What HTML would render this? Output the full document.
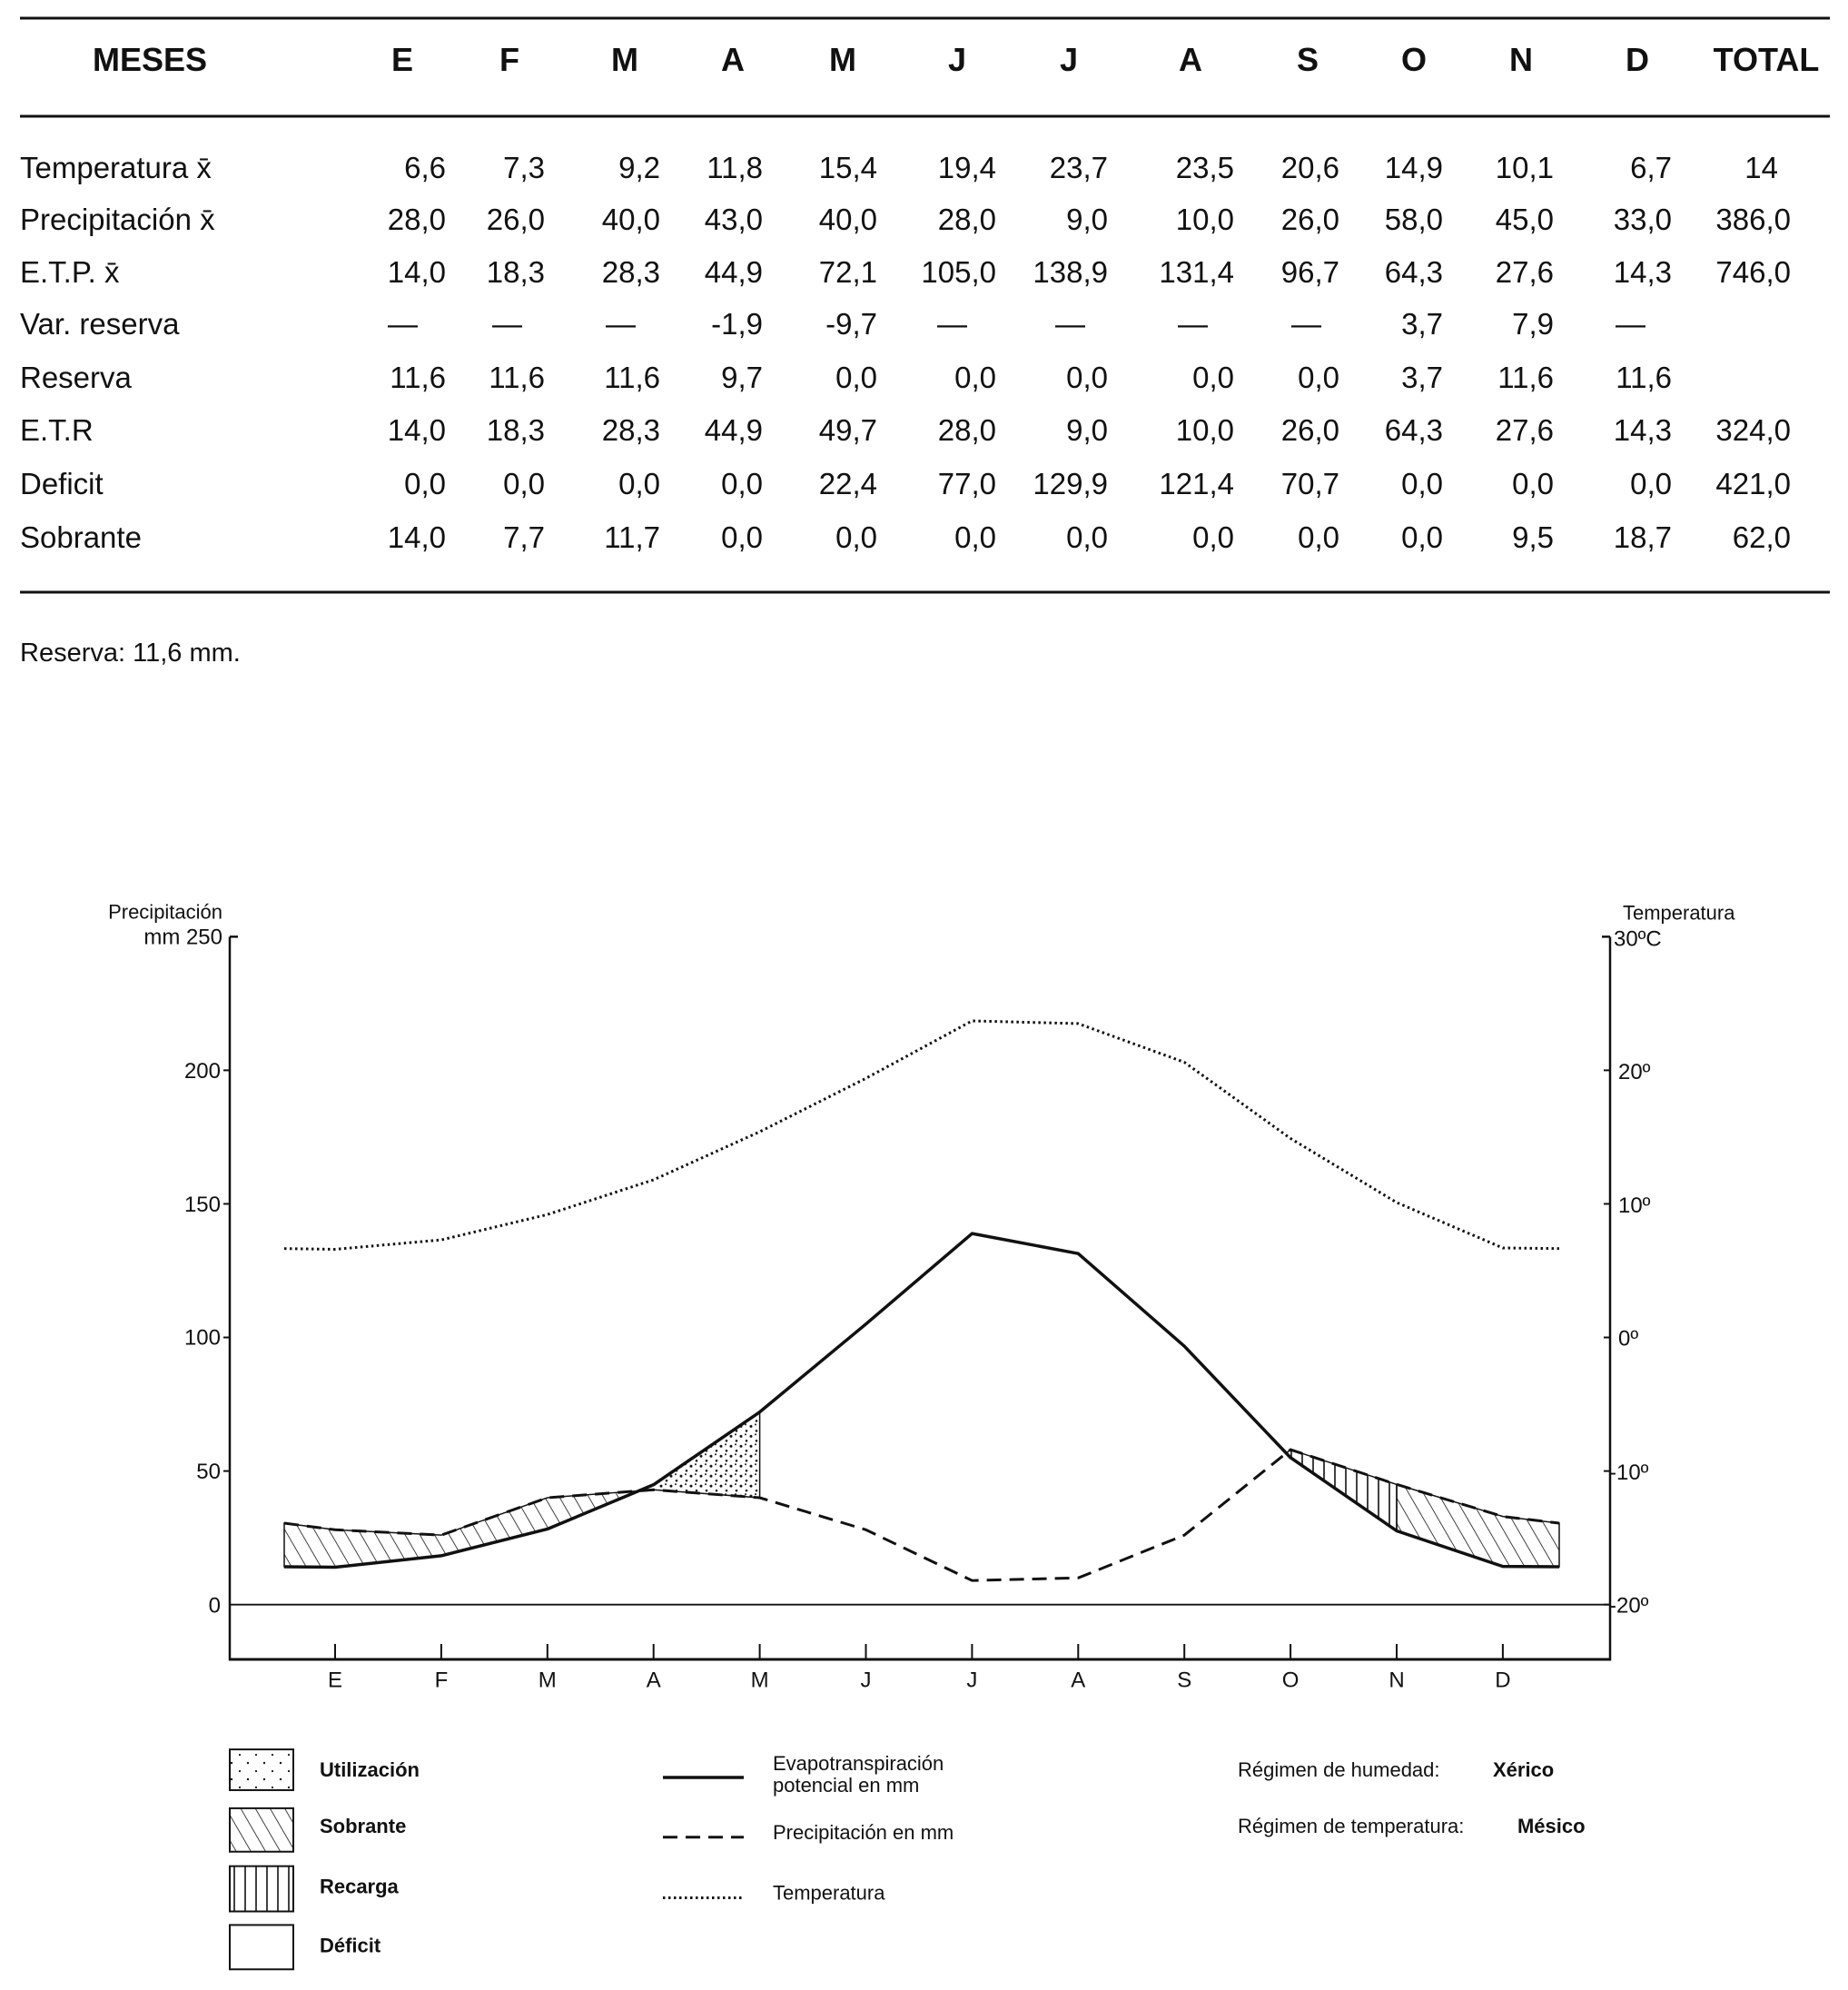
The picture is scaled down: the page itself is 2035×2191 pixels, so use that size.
<!DOCTYPE html>
<html><head><meta charset="utf-8"><style>
html,body{margin:0;padding:0;background:#fff;}
svg{display:block;}
text{font-family:"Liberation Sans",sans-serif;fill:#111;}
.t{font-size:33px;}
.h{font-size:36px;font-weight:bold;}
.s{font-size:22px;}
.sb{font-size:22px;font-weight:bold;}
.ax{font-size:24px;}
</style></head><body>
<svg width="2035" height="2191" viewBox="0 0 2035 2191" xmlns="http://www.w3.org/2000/svg">
<defs>
<pattern id="bs" patternUnits="userSpaceOnUse" width="14" height="14" patternTransform="rotate(-30)">
<line x1="0" y1="0" x2="0" y2="14" stroke="#111" stroke-width="1.6"/></pattern>
<pattern id="vl" patternUnits="userSpaceOnUse" width="12" height="12">
<line x1="6" y1="0" x2="6" y2="12" stroke="#111" stroke-width="1.6"/></pattern>
<pattern id="dt" patternUnits="userSpaceOnUse" width="11" height="11">
<circle cx="2" cy="3" r="1.5" fill="#111"/><circle cx="8" cy="8" r="1.3" fill="#111"/><circle cx="7" cy="1" r="1" fill="#111"/></pattern>
<pattern id="dtl" patternUnits="userSpaceOnUse" width="18" height="18">
<circle cx="3" cy="4" r="1.2" fill="#111"/><circle cx="12" cy="13" r="1.1" fill="#111"/></pattern>
</defs>
<rect width="2035" height="2191" fill="#fff"/>
<!-- table -->
<line x1="22" y1="20" x2="2015" y2="20" stroke="#111" stroke-width="3"/>
<line x1="22" y1="128" x2="2015" y2="128" stroke="#111" stroke-width="3"/>
<line x1="22" y1="652" x2="2015" y2="652" stroke="#111" stroke-width="3"/>
<g class="h" text-anchor="middle">
<text x="165" y="78">MESES</text>
<text x="443" y="78">E</text><text x="561" y="78">F</text><text x="688" y="78">M</text><text x="807" y="78">A</text><text x="928" y="78">M</text><text x="1054" y="78">J</text><text x="1177" y="78">J</text><text x="1311" y="78">A</text><text x="1440" y="78">S</text><text x="1557" y="78">O</text><text x="1675" y="78">N</text><text x="1803" y="78">D</text><text x="1945" y="78">TOTAL</text>
</g>
<g class="t">
<text x="22" y="196">Temperatura x̄</text>
<text x="22" y="253">Precipitación x̄</text>
<text x="22" y="311">E.T.P. x̄</text>
<text x="22" y="368">Var. reserva</text>
<text x="22" y="427">Reserva</text>
<text x="22" y="485">E.T.R</text>
<text x="22" y="544">Deficit</text>
<text x="22" y="603">Sobrante</text>
</g>
<g class="t" text-anchor="end">
<g transform="translate(0,196)"><text x="491">6,6</text><text x="600">7,3</text><text x="727">9,2</text><text x="840">11,8</text><text x="966">15,4</text><text x="1097">19,4</text><text x="1220">23,7</text><text x="1359">23,5</text><text x="1475">20,6</text><text x="1589">14,9</text><text x="1711">10,1</text><text x="1841">6,7</text><text x="1958">14</text></g>
<g transform="translate(0,253)"><text x="491">28,0</text><text x="600">26,0</text><text x="727">40,0</text><text x="840">43,0</text><text x="966">40,0</text><text x="1097">28,0</text><text x="1220">9,0</text><text x="1359">10,0</text><text x="1475">26,0</text><text x="1589">58,0</text><text x="1711">45,0</text><text x="1841">33,0</text><text x="1972">386,0</text></g>
<g transform="translate(0,311)"><text x="491">14,0</text><text x="600">18,3</text><text x="727">28,3</text><text x="840">44,9</text><text x="966">72,1</text><text x="1097">105,0</text><text x="1220">138,9</text><text x="1359">131,4</text><text x="1475">96,7</text><text x="1589">64,3</text><text x="1711">27,6</text><text x="1841">14,3</text><text x="1972">746,0</text></g>
<g transform="translate(0,368)"><text x="460">—</text><text x="575">—</text><text x="700">—</text><text x="840">-1,9</text><text x="966">-9,7</text><text x="1065">—</text><text x="1195">—</text><text x="1330">—</text><text x="1455">—</text><text x="1589">3,7</text><text x="1711">7,9</text><text x="1812">—</text></g>
<g transform="translate(0,427)"><text x="491">11,6</text><text x="600">11,6</text><text x="727">11,6</text><text x="840">9,7</text><text x="966">0,0</text><text x="1097">0,0</text><text x="1220">0,0</text><text x="1359">0,0</text><text x="1475">0,0</text><text x="1589">3,7</text><text x="1711">11,6</text><text x="1841">11,6</text></g>
<g transform="translate(0,485)"><text x="491">14,0</text><text x="600">18,3</text><text x="727">28,3</text><text x="840">44,9</text><text x="966">49,7</text><text x="1097">28,0</text><text x="1220">9,0</text><text x="1359">10,0</text><text x="1475">26,0</text><text x="1589">64,3</text><text x="1711">27,6</text><text x="1841">14,3</text><text x="1972">324,0</text></g>
<g transform="translate(0,544)"><text x="491">0,0</text><text x="600">0,0</text><text x="727">0,0</text><text x="840">0,0</text><text x="966">22,4</text><text x="1097">77,0</text><text x="1220">129,9</text><text x="1359">121,4</text><text x="1475">70,7</text><text x="1589">0,0</text><text x="1711">0,0</text><text x="1841">0,0</text><text x="1972">421,0</text></g>
<g transform="translate(0,603)"><text x="491">14,0</text><text x="600">7,7</text><text x="727">11,7</text><text x="840">0,0</text><text x="966">0,0</text><text x="1097">0,0</text><text x="1220">0,0</text><text x="1359">0,0</text><text x="1475">0,0</text><text x="1589">0,0</text><text x="1711">9,5</text><text x="1841">18,7</text><text x="1972">62,0</text></g>
</g>
<text class="t" x="22" y="728" style="font-size:29px">Reserva: 11,6 mm.</text>

<g transform="matrix(1 0 0 0.99644 0 0)">
<!-- chart fills -->
<polygon fill="url(#bs)" stroke="#111" stroke-width="1.5" points="313,1683 369,1690.3 485.9,1696.2 602.8,1654.9 703.4,1647.3 602.8,1689.5 485.9,1719 369,1731.7 313,1731.2"/>
<polygon fill="url(#dt)" stroke="#111" stroke-width="1.5" points="703.4,1647.3 719.7,1646.1 836.6,1654.9 836.6,1560.2 719.7,1640.5"/>
<polygon fill="url(#vl)" stroke="#111" stroke-width="1.5" points="1416.4,1605.6 1421.1,1601.8 1538,1640.2 1538,1691.5 1421.1,1610.6"/>
<polygon fill="url(#bs)" stroke="#111" stroke-width="1.5" points="1538,1640.2 1654.9,1675.6 1717,1683 1717,1731.2 1654.9,1730.8 1538,1691.5"/>
<!-- axes -->
<g stroke="#111" fill="none">
<line x1="253" y1="1035" x2="253" y2="1834.5" stroke-width="2.5"/>
<line x1="253" y1="1035" x2="262" y2="1035" stroke-width="2.5"/>
<line x1="1773" y1="1035" x2="1773" y2="1834.5" stroke-width="2.5"/>
<line x1="1764" y1="1035" x2="1773" y2="1035" stroke-width="2.5"/>
<line x1="252" y1="1833.5" x2="1774" y2="1833.5" stroke-width="3"/>
<line x1="253" y1="1773" x2="1773" y2="1773" stroke-width="2"/>
<g stroke-width="2">
<line x1="246" y1="1182.6" x2="253" y2="1182.6"/><line x1="246" y1="1330.2" x2="253" y2="1330.2"/><line x1="246" y1="1477.8" x2="253" y2="1477.8"/><line x1="246" y1="1625.4" x2="253" y2="1625.4"/>
<line x1="1766" y1="1182.6" x2="1773" y2="1182.6"/><line x1="1766" y1="1330.2" x2="1773" y2="1330.2"/><line x1="1766" y1="1477.8" x2="1773" y2="1477.8"/><line x1="1766" y1="1625.4" x2="1773" y2="1625.4"/><line x1="1766" y1="1773" x2="1773" y2="1773"/>
<path d="M369 1833.5v-17M485.9 1833.5v-17M602.8 1833.5v-17M719.7 1833.5v-17M836.6 1833.5v-17M953.5 1833.5v-17M1070.4 1833.5v-17M1187.3 1833.5v-17M1304.2 1833.5v-17M1421.1 1833.5v-17M1538 1833.5v-17M1654.9 1833.5v-17"/>
</g>
<!-- series -->
<polyline stroke-width="3.5" stroke-linejoin="round" points="313,1731.2 369,1731.7 485.9,1719 602.8,1689.5 719.7,1640.5 836.6,1560.2 953.5,1463 1070.4,1363 1187.3,1385.1 1304.2,1487.5 1421.1,1610.6 1538,1691.5 1654.9,1730.8 1717,1731.2"/>
<polyline stroke-width="3" stroke-dasharray="16 9" points="313,1683 369,1690.3 485.9,1696.2 602.8,1654.9 719.7,1646.1 836.6,1654.9 953.5,1690.3 1070.4,1746.4 1187.3,1743.5 1304.2,1696.2 1421.1,1601.8 1538,1640.2 1654.9,1675.6 1717,1683"/>
<polyline stroke-width="3" stroke-dasharray="2.5 3.5" points="313,1379.6 369,1380.4 485.9,1370 602.8,1342 719.7,1303.6 836.6,1250.5 953.5,1191.5 1070.4,1128 1187.3,1131 1304.2,1173.7 1421.1,1257.9 1538,1328.7 1654.9,1378.9 1717,1379.6"/>
</g>
<!-- axis labels -->
<text class="s" x="245" y="1015" text-anchor="end">Precipitación</text>
<text class="ax" x="245" y="1043" text-anchor="end">mm 250</text>
<g class="ax" text-anchor="end">
<text x="243" y="1191">200</text><text x="243" y="1339">150</text><text x="243" y="1486">100</text><text x="243" y="1634">50</text><text x="243" y="1782">0</text>
</g>
<text class="s" x="1787" y="1016">Temperatura</text>
<g class="ax">
<text x="1777" y="1045">30ºC</text><text x="1782" y="1192">20º</text><text x="1782" y="1340">10º</text><text x="1782" y="1487">0º</text><text x="1772" y="1635">-10º</text><text x="1772" y="1782">-20º</text>
</g>
<g class="ax" text-anchor="middle">
<text x="369" y="1864">E</text><text x="485.9" y="1864">F</text><text x="602.8" y="1864">M</text><text x="719.7" y="1864">A</text><text x="836.6" y="1864">M</text><text x="953.5" y="1864">J</text><text x="1070.4" y="1864">J</text><text x="1187.3" y="1864">A</text><text x="1304.2" y="1864">S</text><text x="1421.1" y="1864">O</text><text x="1538" y="1864">N</text><text x="1654.9" y="1864">D</text>
</g>
<!-- legend -->
<g stroke="#111" stroke-width="2">
<rect x="253" y="1933" width="70" height="45" fill="url(#dtl)"/>
<rect x="253" y="1998" width="70" height="48" fill="url(#bs)"/>
<rect x="253" y="2062" width="70" height="50" fill="url(#vl)"/>
<rect x="253" y="2127" width="70" height="49" fill="none"/>
<line x1="730" y1="1964" x2="819" y2="1964" stroke-width="3.5"/>
<line x1="730" y1="2030" x2="819" y2="2030" stroke-width="3" stroke-dasharray="16 9"/>
<line x1="730" y1="2097" x2="819" y2="2097" stroke-width="3" stroke-dasharray="2.5 3.5"/>
</g>
<g class="sb">
<text x="352" y="1963">Utilización</text>
<text x="352" y="2025">Sobrante</text>
<text x="352" y="2092">Recarga</text>
<text x="352" y="2157">Déficit</text>
</g>
<g class="s">
<text x="851" y="1956">Evapotranspiración</text>
<text x="851" y="1980">potencial en mm</text>
<text x="851" y="2032">Precipitación en mm</text>
<text x="851" y="2099">Temperatura</text>
<text x="1363" y="1963">Régimen de humedad:</text>
<text x="1363" y="2025">Régimen de temperatura:</text>
</g>
<text class="sb" x="1644" y="1963">Xérico</text>
<text class="sb" x="1671" y="2025">Mésico</text>
</g>
</svg>
</body></html>
